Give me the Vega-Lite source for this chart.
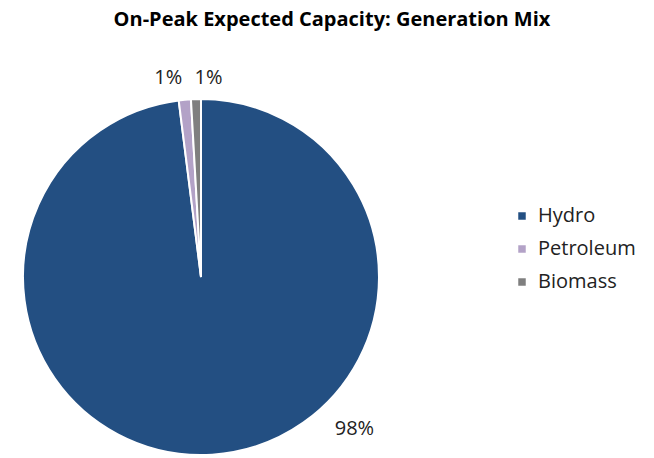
{
  "$schema": "https://vega.github.io/schema/vega-lite/v6.json",
  "autosize": "none",
  "width": 356,
  "height": 356,
  "padding": {"left": 23, "top": 99, "right": 275, "bottom": 3},
  "background": "white",
  "config": {"view": {"stroke": null}, "font": "Open Sans"},
  "title": {
    "text": "On-Peak Expected Capacity: Generation Mix",
    "font": "Open Sans",
    "fontSize": 20,
    "fontWeight": "bold",
    "color": "#000000",
    "anchor": "middle",
    "frame": "group",
    "baseline": "bottom",
    "offset": 17,
    "dx": 131
  },
  "data": {
    "values": [
      {"category": "Hydro", "value": 98.0, "label": "98%", "idx": 1},
      {"category": "Petroleum", "value": 1.1, "label": "1%", "idx": 2},
      {"category": "Biomass", "value": 0.9, "label": "1%", "idx": 3}
    ]
  },
  "encoding": {
    "theta": {"field": "value", "type": "quantitative", "stack": true},
    "order": {"field": "idx", "type": "quantitative"}
  },
  "layer": [
    {
      "mark": {"type": "arc", "outerRadius": 178, "stroke": "white", "strokeWidth": 2},
      "encoding": {
        "color": {
          "field": "category",
          "type": "nominal",
          "scale": {"domain": ["Hydro", "Petroleum", "Biomass"], "range": ["#234F82", "#B3A2C7", "#7F7F7F"]},
          "legend": {
            "title": null,
            "orient": "none",
            "legendX": 489,
            "legendY": 107,
            "padding": 0,
            "symbolType": "square",
            "symbolSize": 56,
            "symbolStrokeWidth": 0,
            "labelFont": "Open Sans",
            "labelFontSize": 20,
            "labelColor": "#222222",
            "labelOffset": 6,
            "rowPadding": 13
          }
        }
      }
    },
    {
      "mark": {"type": "text", "radius": 195, "font": "Open Sans", "fontSize": 20, "color": "#222222", "align": "center", "baseline": "middle", "dx": -15, "dy": -5},
      "encoding": {
        "text": {"condition": {"test": "datum.category === 'Petroleum'", "field": "label"}, "value": ""}
      }
    },
    {
      "mark": {"type": "text", "radius": 195, "font": "Open Sans", "fontSize": 20, "color": "#222222", "align": "center", "baseline": "middle", "dx": 13, "dy": -4},
      "encoding": {
        "text": {"condition": {"test": "datum.category === 'Biomass'", "field": "label"}, "value": ""}
      }
    },
    {
      "mark": {"type": "text", "radius": 150, "font": "Open Sans", "fontSize": 20, "color": "#222222", "align": "center", "baseline": "middle", "dx": 144, "dy": 2},
      "encoding": {
        "text": {"condition": {"test": "datum.category === 'Hydro'", "field": "label"}, "value": ""}
      }
    }
  ]
}
